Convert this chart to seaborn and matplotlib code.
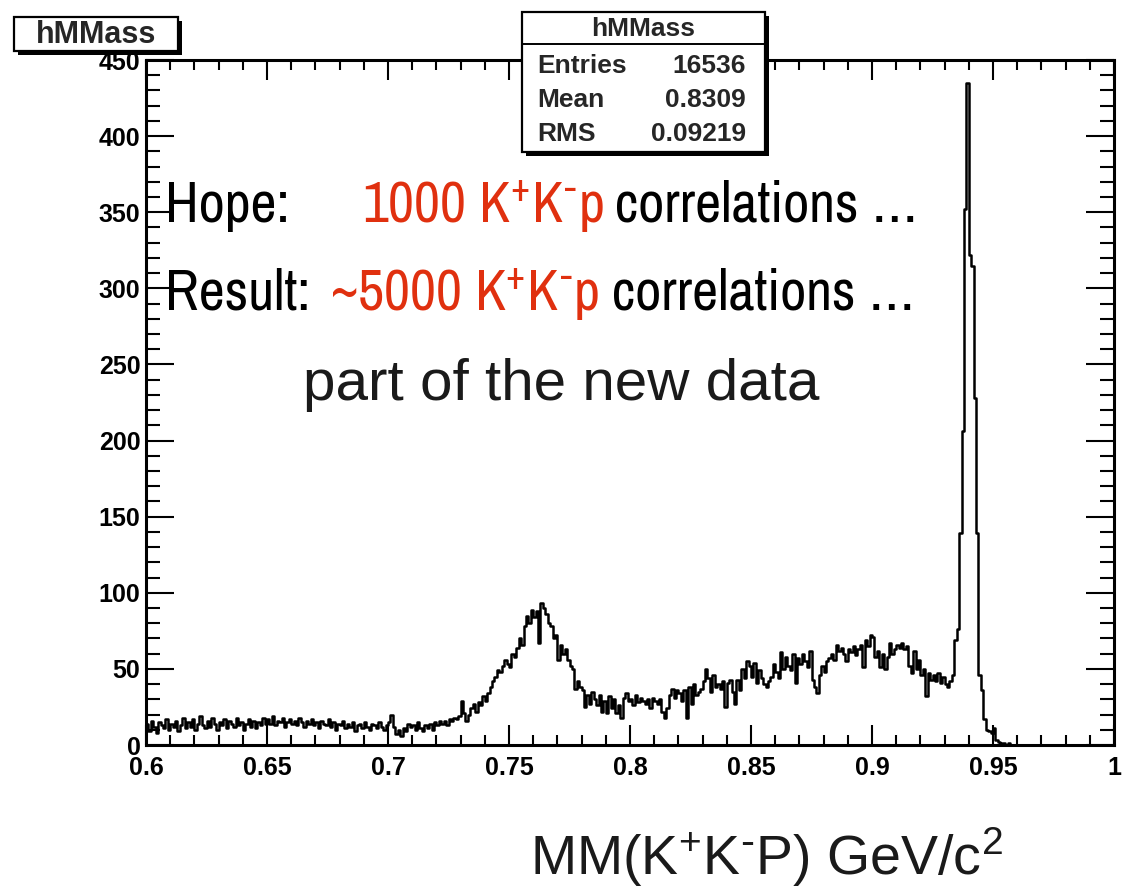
import numpy as np
import pandas as pd
import matplotlib
matplotlib.use("Agg")
import matplotlib.pyplot as plt
import seaborn as sns
from matplotlib.patches import Rectangle
from matplotlib.lines import Line2D
from matplotlib.ticker import MultipleLocator

# ---------------- data (bin width 0.001 starting at 0.600) ----------------
bin_start = 0.600
bin_width = 0.001
counts_0600 = [14, 9, 16, 12, 8, 15, 13, 11, 17, 10, 14, 12, 16, 9, 13, 18, 11, 15, 12, 17,
               10, 14, 19, 13, 11, 16, 12, 18, 14, 10, 15, 13, 17, 11, 16, 14, 12, 18, 13, 15,
               10, 14, 17, 12, 16, 11, 15, 13, 18, 14]
counts_0650 = [17, 14, 19, 13, 16, 15, 18, 12, 15, 17, 14, 16, 13, 18, 15, 12, 16, 14, 17, 13,
               15, 11, 16, 14, 13, 17, 12, 15, 10, 14, 13, 16, 11, 14, 12, 15, 9, 13, 14, 11,
               15, 12, 10, 14, 13, 11, 15, 12, 10, 13]
counts_0700 = [15, 20, 12, 7, 10, 6, 11, 9, 14, 12, 13, 10, 15, 11, 9, 13, 11, 14, 10, 15,
               13, 16, 14, 16, 13, 17, 16, 18, 17, 19, 29, 21, 16, 20, 24, 27, 22, 28, 26, 32,
               29, 34, 38, 42, 45, 49, 48, 52, 56, 53]
counts_0750 = [51, 60, 58, 64, 70, 66, 78, 85, 80, 89, 84, 88, 67, 93, 90, 86, 80, 78, 70, 72,
               56, 66, 60, 63, 56, 52, 50, 37, 42, 38, 36, 25, 33, 27, 35, 30, 26, 33, 22, 29,
               21, 32, 24, 30, 21, 26, 18, 31, 34, 29]
counts_0800 = [30, 26, 33, 28, 31, 29, 27, 30, 24, 31, 29, 27, 30, 22, 18, 24, 33, 37, 31, 36,
               34, 29, 36, 18, 38, 27, 40, 33, 35, 37, 42, 50, 44, 35, 46, 38, 40, 37, 42, 25,
               41, 43, 35, 27, 43, 36, 50, 44, 55, 52]
counts_0850 = [45, 54, 41, 49, 44, 40, 38, 42, 45, 53, 48, 44, 61, 50, 58, 52, 49, 60, 41, 57,
               53, 60, 55, 51, 62, 43, 38, 34, 46, 52, 48, 55, 57, 60, 56, 66, 62, 64, 60, 55,
               63, 61, 65, 59, 63, 66, 51, 69, 65, 72]
counts_0900 = [71, 58, 62, 51, 60, 50, 58, 67, 60, 63, 66, 64, 67, 63, 65, 52, 47, 62, 50, 56,
               46, 50, 32, 47, 43, 46, 42, 47, 41, 45, 40, 38, 42, 46]
counts_0934 = [69, 76, 139, 206, 352, 435, 322, 315, 228, 139, 46, 36, 17, 10, 9, 8, 11, 3,
               2, 1, 1, 0, 1, 0]

counts = (counts_0600 + counts_0650 + counts_0700 + counts_0750 + counts_0800 +
          counts_0850 + counts_0900 + counts_0934)
edges = [round(bin_start + bin_width * i, 6) for i in range(len(counts) + 1)]
centers = [round(e + bin_width / 2, 6) for e in edges[:-1]]

x_ticks = [0.6, 0.65, 0.7, 0.75, 0.8, 0.85, 0.9, 0.95, 1.0]
x_tick_labels = ["0.6", "0.65", "0.7", "0.75", "0.8", "0.85", "0.9", "0.95", "1"]
y_ticks = [0, 50, 100, 150, 200, 250, 300, 350, 400, 450]
y_tick_labels = ["0", "50", "100", "150", "200", "250", "300", "350", "400", "450"]

hist_name = "hMMass"
stats_names = ["Entries", "Mean", "RMS"]
stats_values = ["16536", "0.8309", "0.09219"]

x_label = r"MM(K$^{+}$K$^{\text{-}}$P) GeV/c$^{2}$"
hope_black = "Hope:"
hope_red = r"1000 K$^{+}$K$^{\text{-}}$p"
result_black = "Result:"
result_red = r"~5000 K$^{+}$K$^{\text{-}}$p"
tail_text = "correlations \u2026"
note_text = "part of the new data"

# ---------------- styling ----------------
sns.set_theme(style="ticks")
plt.rcParams["font.family"] = ["Liberation Sans", "DejaVu Sans"]
plt.rcParams["mathtext.default"] = "regular"
NARROW = ["Archivo Narrow", "Liberation Sans", "DejaVu Sans"]
REG = ["Liberation Sans", "DejaVu Sans"]
RED = "#e0300f"

W, H = 1128, 888
fig = plt.figure(figsize=(W / 100, H / 100), dpi=100)
fig.patch.set_facecolor("white")

L, R, T, B = 146, 1114, 60, 745
ax = fig.add_axes([L / W, 1 - B / H, (R - L) / W, (B - T) / H])
ax.set_facecolor("white")

df = pd.DataFrame({"mass": centers, "count": counts})
sns.histplot(data=df, x="mass", weights="count", bins=edges, element="step",
             fill=False, color="black", linewidth=1.8, ax=ax)

ax.set_xlim(0.6, 1.0)
ax.set_ylim(0, 448)
ax.set_xlabel("")
ax.set_ylabel("")
for s in ax.spines.values():
    s.set_linewidth(2.2)
    s.set_color("black")

ax.set_xticks(x_ticks, x_tick_labels)
ax.set_yticks(y_ticks, y_tick_labels)
ax.xaxis.set_minor_locator(MultipleLocator(0.01))
ax.yaxis.set_minor_locator(MultipleLocator(10))
ax.tick_params(axis="both", which="both", direction="in", top=True, right=True,
               color="black", width=1.5, labelsize=18, labelcolor="black")
ax.tick_params(axis="x", which="major", length=14.5, pad=8)
ax.tick_params(axis="x", which="minor", length=7.2)
ax.tick_params(axis="y", which="major", length=20, pad=4)
ax.tick_params(axis="y", which="minor", length=10)
for lab in ax.get_xticklabels() + ax.get_yticklabels():
    lab.set_fontweight("bold")


def fx(px):
    return px / W


def fy(py):
    return 1 - py / H


# ---------------- overlay texts ----------------
fig.text(fx(165), fy(222), hope_black, fontsize=41, family=NARROW, color="black", va="baseline")
fig.text(fx(362), fy(222), hope_red, fontsize=41, family=NARROW, color=RED, va="baseline")
fig.text(fx(615), fy(222), tail_text, fontsize=41, family=NARROW, color="black", va="baseline")
fig.text(fx(165), fy(310), result_black, fontsize=41, family=NARROW, color="black", va="baseline")
fig.text(fx(330), fy(310), result_red, fontsize=41, family=NARROW, color=RED, va="baseline")
fig.text(fx(612), fy(310), tail_text, fontsize=41, family=NARROW, color="black", va="baseline")
fig.text(fx(303), fy(400), note_text, fontsize=42, family=REG, color="#1a1a1a", va="baseline")
fig.text(fx(530), fy(875), x_label, fontsize=40, family=REG, color="#1a1a1a", va="baseline")


# ---------------- ROOT-like boxes ----------------
def box(x0, y0, x1, y1, shadow=4):
    fig.add_artist(Rectangle((fx(x0 + shadow), fy(y1 + shadow)), (x1 - x0) / W, (y1 - y0) / H,
                             transform=fig.transFigure, facecolor="black", edgecolor="none",
                             zorder=5))
    fig.add_artist(Rectangle((fx(x0), fy(y1)), (x1 - x0) / W, (y1 - y0) / H,
                             transform=fig.transFigure, facecolor="white", edgecolor="black",
                             linewidth=1.6, zorder=6))


# title box
box(14, 17, 178, 51)
fig.text(fx(96), fy(35), hist_name, fontsize=22, fontweight="bold", ha="center", va="center",
         zorder=7)

# stats box
box(522, 12, 765, 152)
fig.add_artist(Line2D([fx(522), fx(765)], [fy(44), fy(44)], transform=fig.transFigure,
                      color="black", linewidth=1.4, zorder=7))
fig.text(fx(643), fy(29), hist_name, fontsize=19, fontweight="bold", ha="center", va="center",
         zorder=7)
for i, (nm, val) in enumerate(zip(stats_names, stats_values)):
    yy = 66 + 34 * i
    fig.text(fx(537), fy(yy), nm, fontsize=19, fontweight="bold", ha="left", va="center", zorder=7)
    fig.text(fx(746), fy(yy), val, fontsize=19, fontweight="bold", ha="right", va="center",
             zorder=7)

fig.savefig("out.png", dpi=100, facecolor="white")
